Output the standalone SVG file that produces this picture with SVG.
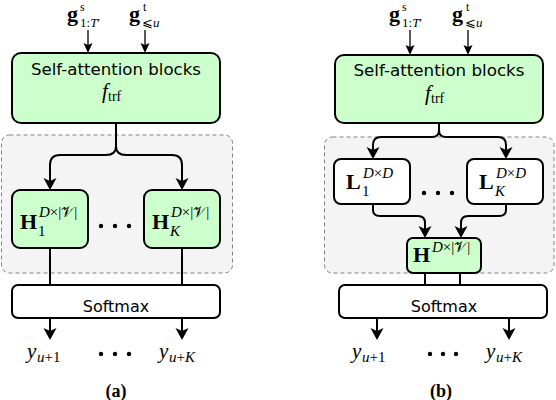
<svg xmlns="http://www.w3.org/2000/svg" width="556" height="400" viewBox="0 0 556 400">
<style>
.box{stroke:#000;stroke-width:2;}
.green{fill:#ccffcc;}
.white{fill:#ffffff;}
.region{fill:#f4f4f4;stroke:#808080;stroke-width:1;stroke-dasharray:4 3;}
.lbl{font-family:"DejaVu Sans",sans-serif;font-size:16px;fill:#000;}
.m{font-family:"Liberation Serif",serif;fill:#000;}
.b{font-weight:bold;}
.i{font-style:italic;}
.cal{font-family:"DejaVu Sans","Noto Sans",serif;font-style:normal;}
.conn{fill:none;stroke:#000;stroke-width:2;}
.thin{fill:none;stroke:#000;stroke-width:1.3;}
.dot{fill:#000;}
.cap{font-family:"Liberation Serif",serif;font-weight:bold;font-size:18px;fill:#000;}
</style>
<defs>
<marker id="ah" viewBox="0 -7 13 14" refX="3" refY="0" markerWidth="13" markerHeight="14" markerUnits="userSpaceOnUse" orient="auto">
<path d="M0,-6.5 L12,0 L0,6.5 L3,0 Z" fill="#000"/>
</marker>
<marker id="ahs" viewBox="0 -5 11 10" refX="2" refY="0" markerWidth="11" markerHeight="10" markerUnits="userSpaceOnUse" orient="auto">
<path d="M0,-4.5 L10,0 L0,4.5 L2,0 Z" fill="#000"/>
</marker>
</defs>

<!-- Panel (a) -->
<g id="a-region"><rect class="region" x="1.5" y="135" width="231" height="138" rx="8"/></g>
<g id="a-in-s">
<text class="m" font-size="22"><tspan class="b" x="67" y="21">g</tspan><tspan x="80" y="11" font-size="12">s</tspan><tspan x="80" y="26.5" font-size="13">1:</tspan><tspan class="i" font-size="13">T</tspan><tspan font-size="13">′</tspan></text>
</g>
<g id="a-in-t">
<text class="m" font-size="22"><tspan class="b" x="129" y="21">g</tspan><tspan x="143" y="11" font-size="12">t</tspan><tspan x="142" y="26.5" font-size="13">⩽</tspan><tspan class="i" font-size="13">u</tspan></text>
</g>
<g id="a-sab">
<rect class="box green" x="12" y="53" width="208" height="70" rx="9"/>
<text class="lbl" x="116" y="75" text-anchor="middle" textLength="170" lengthAdjust="spacingAndGlyphs">Self-attention blocks</text>
<text class="m" font-size="21"><tspan class="i" x="102" y="98">f</tspan><tspan x="108" y="101" font-size="14">trf</tspan></text>
</g>
<g id="a-h1">
<rect class="box green" x="12" y="190" width="76" height="58" rx="8"/>
<text class="m" font-size="22"><tspan class="b" x="20" y="229">H</tspan><tspan x="39" y="217" font-size="15"><tspan class="i">D</tspan>×|<tspan class="cal">𝒱</tspan>|</tspan><tspan x="38" y="236" font-size="15">1</tspan></text>
</g>
<g id="a-hk">
<rect class="box green" x="144" y="190" width="76" height="58" rx="8"/>
<text class="m" font-size="22"><tspan class="b" x="152" y="229">H</tspan><tspan x="171" y="217" font-size="15"><tspan class="i">D</tspan>×|<tspan class="cal">𝒱</tspan>|</tspan><tspan class="i" x="170" y="236" font-size="15">K</tspan></text>
</g>
<g id="a-dots1"><circle class="dot" cx="101" cy="226" r="2.2"/><circle class="dot" cx="115" cy="226" r="2.2"/><circle class="dot" cx="129" cy="226" r="2.2"/></g>
<g id="a-softmax">
<rect class="box white" x="12" y="285" width="208" height="33" rx="6"/>
<text class="lbl" x="116" y="312" text-anchor="middle" font-size="17">Softmax</text>
</g>
<g id="a-out1"><text class="m" font-size="21"><tspan class="i" x="27" y="358">y</tspan><tspan x="37" y="362" font-size="15"><tspan class="i">u</tspan>+1</tspan></text></g>
<g id="a-outk"><text class="m" font-size="21"><tspan class="i" x="159" y="358">y</tspan><tspan x="169" y="362" font-size="15"><tspan class="i">u</tspan>+<tspan class="i">K</tspan></tspan></text></g>
<g id="a-dots2"><circle class="dot" cx="101" cy="354" r="2.2"/><circle class="dot" cx="115" cy="354" r="2.2"/><circle class="dot" cx="129" cy="354" r="2.2"/></g>
<text class="cap" x="116" y="397" text-anchor="middle">(a)</text>

<!-- Panel (b) -->
<g id="b-region"><rect class="region" x="324.5" y="137" width="229.5" height="136" rx="8"/></g>
<g id="b-in-s">
<text class="m" font-size="22"><tspan class="b" x="389" y="21">g</tspan><tspan x="402" y="11" font-size="12">s</tspan><tspan x="402" y="26.5" font-size="13">1:</tspan><tspan class="i" font-size="13">T</tspan><tspan font-size="13">′</tspan></text>
</g>
<g id="b-in-t">
<text class="m" font-size="22"><tspan class="b" x="452" y="21">g</tspan><tspan x="466" y="11" font-size="12">t</tspan><tspan x="465" y="26.5" font-size="13">⩽</tspan><tspan class="i" font-size="13">u</tspan></text>
</g>
<g id="b-sab">
<rect class="box green" x="335" y="55" width="208" height="68" rx="9"/>
<text class="lbl" x="439" y="76" text-anchor="middle" textLength="171" lengthAdjust="spacingAndGlyphs">Self-attention blocks</text>
<text class="m" font-size="21"><tspan class="i" x="425" y="100">f</tspan><tspan x="431" y="103" font-size="14">trf</tspan></text>
</g>
<g id="b-l1">
<rect class="box white" x="334" y="159" width="76" height="45" rx="7"/>
<text class="m" font-size="22"><tspan class="b" x="346" y="189">L</tspan><tspan x="363" y="178" font-size="15"><tspan class="i">D</tspan>×<tspan class="i">D</tspan></tspan><tspan x="362" y="196" font-size="15">1</tspan></text>
</g>
<g id="b-lk">
<rect class="box white" x="467" y="159" width="76" height="45" rx="7"/>
<text class="m" font-size="22"><tspan class="b" x="479" y="189">L</tspan><tspan x="496" y="178" font-size="15"><tspan class="i">D</tspan>×<tspan class="i">D</tspan></tspan><tspan class="i" x="495" y="196" font-size="15">K</tspan></text>
</g>
<g id="b-dots1"><circle class="dot" cx="424" cy="193" r="2.2"/><circle class="dot" cx="438" cy="193" r="2.2"/><circle class="dot" cx="452" cy="193" r="2.2"/></g>
<g id="b-h">
<rect class="box green" x="407" y="238" width="74" height="35" rx="6"/>
<text class="m" font-size="22"><tspan class="b" x="413" y="262">H</tspan><tspan x="432" y="252" font-size="15"><tspan class="i">D</tspan>×|<tspan class="cal">𝒱</tspan>|</tspan></text>
</g>
<g id="b-softmax">
<rect class="box white" x="339" y="285" width="208" height="33" rx="6"/>
<text class="lbl" x="444" y="312" text-anchor="middle" font-size="17">Softmax</text>
</g>
<g id="b-out1"><text class="m" font-size="21"><tspan class="i" x="352" y="358">y</tspan><tspan x="362" y="362" font-size="15"><tspan class="i">u</tspan>+1</tspan></text></g>
<g id="b-outk"><text class="m" font-size="21"><tspan class="i" x="486" y="358">y</tspan><tspan x="496" y="362" font-size="15"><tspan class="i">u</tspan>+<tspan class="i">K</tspan></tspan></text></g>
<g id="b-dots2"><circle class="dot" cx="430" cy="354" r="2.2"/><circle class="dot" cx="443" cy="354" r="2.2"/><circle class="dot" cx="456" cy="354" r="2.2"/></g>
<text class="cap" x="441" y="397" text-anchor="middle">(b)</text>

<g id="connectors">
<path class="thin" d="M88,30 V45" marker-end="url(#ahs)"/>
<path class="thin" d="M145,30 V45" marker-end="url(#ahs)"/>
<path class="thin" d="M410,30 V47" marker-end="url(#ahs)"/>
<path class="thin" d="M468,30 V47" marker-end="url(#ahs)"/>
<path class="conn" d="M116,123 V146 Q116,155 106,155 H60 Q50,155 50,165 V181" marker-end="url(#ah)"/>
<path class="conn" d="M116,146 Q116,155 126,155 H172 Q182,155 182,165 V181" marker-end="url(#ah)"/>
<path class="conn" d="M50,248 V285"/>
<path class="conn" d="M182,248 V285"/>
<path class="conn" d="M50,318 V331" marker-end="url(#ah)"/>
<path class="conn" d="M182,318 V331" marker-end="url(#ah)"/>
<path class="conn" d="M439,123 V130 Q439,137 432,137 H381 Q373,137 373,145 V150" marker-end="url(#ah)"/>
<path class="conn" d="M439,130 Q439,137 446,137 H498 Q506,137 506,145 V150" marker-end="url(#ah)"/>
<path class="conn" d="M373,204 V210 Q373,216 380,216 H418 Q425,216 425,223 V229" marker-end="url(#ah)"/>
<path class="conn" d="M506,204 V210 Q506,216 499,216 H468 Q461,216 461,223 V229" marker-end="url(#ah)"/>
<path class="conn" d="M425,273 V285"/>
<path class="conn" d="M460,273 V285"/>
<path class="conn" d="M377,318 V331" marker-end="url(#ah)"/>
<path class="conn" d="M509,318 V331" marker-end="url(#ah)"/>
</g>
</svg>
